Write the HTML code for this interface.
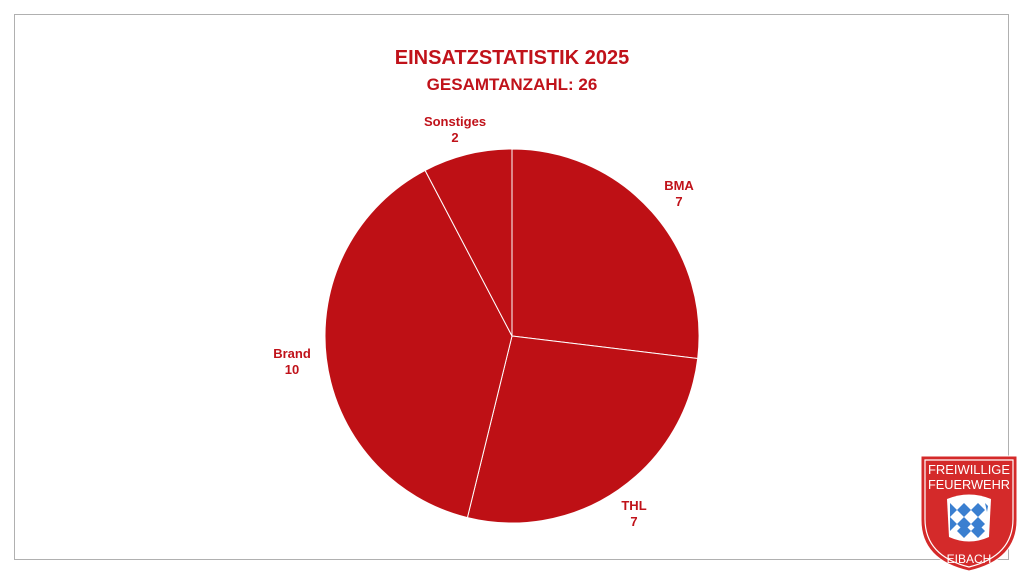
<!DOCTYPE html>
<html><head><style>
body{margin:0;width:1024px;height:576px;background:#fff;overflow:hidden;font-family:"Liberation Sans",Arial,sans-serif}
</style></head><body>
<svg width="1024" height="576" xmlns="http://www.w3.org/2000/svg">
<rect x="14.5" y="14.5" width="994" height="545" fill="#fff" stroke="#b0b0b0" stroke-width="1"/>
<g font-family="Liberation Sans, Arial, sans-serif" font-weight="bold" fill="#c0121a" text-anchor="middle">
<text x="512" y="64" font-size="20">EINSATZSTATISTIK 2025</text>
<text x="512" y="90" font-size="17">GESAMTANZAHL: 26</text>
<text x="455" y="126" font-size="13">Sonstiges</text>
<text x="455" y="142" font-size="13">2</text>
<text x="679" y="190" font-size="13">BMA</text>
<text x="679" y="206" font-size="13">7</text>
<text x="292" y="358" font-size="13">Brand</text>
<text x="292" y="374" font-size="13">10</text>
<text x="634" y="510" font-size="13">THL</text>
<text x="634" y="526" font-size="13">7</text>
</g>
<g fill="#be1015" stroke="#fff" stroke-width="1">
<path d="M512 336 L512 149 A187 187 0 0 1 697.7 358.5 Z"/>
<path d="M512 336 L697.7 358.5 A187 187 0 0 1 467.4 517.6 Z"/>
<path d="M512 336 L467.4 517.6 A187 187 0 0 1 425.1 170.4 Z"/>
<path d="M512 336 L425.1 170.4 A187 187 0 0 1 512 149 Z"/>
</g>
<g>
<path d="M921 456 L1017 456 L1017 520 Q1017 560 969 571 Q921 560 921 520 Z" fill="#d42a2a" stroke="#fff" stroke-width="1"/>
<path d="M925 460 L1013 460 L1013 519 Q1013 556 969 567 Q925 556 925 519 Z" fill="none" stroke="#fff" stroke-width="1.2"/>
<text x="969" y="474" font-size="13" fill="#fff" text-anchor="middle" font-family="Liberation Sans, Arial, sans-serif" textLength="82" lengthAdjust="spacingAndGlyphs">FREIWILLIGE</text>
<text x="969" y="489" font-size="13" fill="#fff" text-anchor="middle" font-family="Liberation Sans, Arial, sans-serif" textLength="82" lengthAdjust="spacingAndGlyphs">FEUERWEHR</text>
<path d="M947 499 Q969 490 991 499 L989 537 Q969 546 949 537 Z" fill="#fff"/>
<g fill="#3a7fd0">
<path d="M950 503 l7 7 -7 7z"/><path d="M957 510 l7 -7 7 7 -7 7z"/><path d="M971 510 l7 -7 7 7 -7 7z"/>
<path d="M950 517 l7 7 -7 7z"/><path d="M964 517 l7 7 -7 7 -7 -7z"/><path d="M978 517 l7 7 -7 7 -7 -7z"/>
<path d="M957 531 l7 -7 7 7 -7 7z"/><path d="M971 531 l7 -7 7 7 -7 7z"/><path d="M985 503 l3 3 -1 6z"/>
</g>
<text x="969" y="563" font-size="12" fill="#fff" text-anchor="middle" font-family="Liberation Sans, Arial, sans-serif">EIBACH</text>
</g>
</svg>
</body></html>
